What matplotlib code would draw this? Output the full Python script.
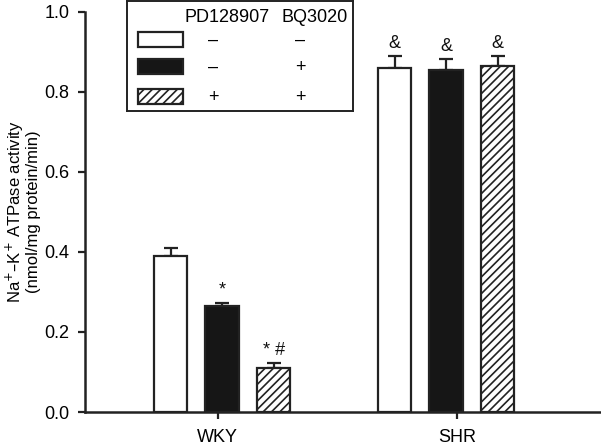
import numpy as np
import matplotlib.pyplot as plt
from matplotlib.patches import Rectangle

plt.rcParams['font.family'] = ['Liberation Sans', 'DejaVu Sans']
plt.rcParams['hatch.linewidth'] = 1.2
plt.rcParams['hatch.color'] = '#222222'

# data
groups = ['WKY', 'SHR']
group_ticks = [-0.02, 1.05]
treatments = ['vehicle', 'BQ3020', 'PD128907 + BQ3020']
means = {
    'WKY': [0.39, 0.265, 0.11],
    'SHR': [0.86, 0.855, 0.865],
}
errors = {
    'WKY': [0.02, 0.008, 0.012],
    'SHR': [0.03, 0.028, 0.025],
}
marks = {
    'WKY': ['', '*', '* #'],
    'SHR': ['&', '&', '&'],
}
pd_signs = ['\u2013', '\u2013', '+']
bq_signs = ['\u2013', '+', '+']

# styles per treatment
faces = ['white', '#161616', 'white']
hatches = ['', '', '////']
offsets = [-0.23, 0.0, 0.23]
width = 0.148
ink = '#222222'
fs = 13

fig = plt.figure(figsize=(6.01, 4.48), dpi=100)
ax = fig.add_axes([85 / 601, 36 / 448, 1 - 85 / 601, (412 - 12) / 448])

for gi, g in enumerate(groups):
    for ti in range(len(treatments)):
        x = gi + offsets[ti]
        m = means[g][ti]
        e = errors[g][ti]
        ax.bar(x, m, width=width, color=faces[ti], edgecolor=ink,
               linewidth=1.6, hatch=hatches[ti], zorder=2)
        ax.errorbar(x, m, yerr=[[0], [e]], fmt='none', ecolor=ink,
                    elinewidth=1.6, capsize=5, capthick=1.6, zorder=1)
        if marks[g][ti]:
            ax.text(x, m + e + 0.01, marks[g][ti], ha='center', va='bottom',
                    fontsize=fs, color='#111111')

ax.set_xlim(-0.612, 1.692)
ax.set_ylim(0, 1.0)
ax.set_yticks(np.arange(0, 1.01, 0.2))
ax.set_yticklabels([f'{v:.1f}' for v in np.arange(0, 1.01, 0.2)])
ax.set_xticks(group_ticks)
ax.set_xticklabels(groups)
for s in ['top', 'right']:
    ax.spines[s].set_visible(False)
for s in ['left', 'bottom']:
    ax.spines[s].set_linewidth(1.8)
    ax.spines[s].set_color(ink)
ax.tick_params(axis='y', length=5, width=1.6, pad=6, labelsize=fs, color=ink)
ax.tick_params(axis='x', length=5, width=1.6, pad=7, labelsize=fs, color=ink)
ax.set_ylabel('Na$^{+}$\u2013K$^{+}$ ATPase activity\n(nmol/mg protein/min)',
              fontsize=12, linespacing=1.0)
ax.yaxis.set_label_coords(-0.085, 0.5)

# legend box with treatment table
lax = fig.add_axes([127 / 601, (448 - 111) / 448, 226 / 601, 110 / 448])
lax.set_xlim(0, 226)
lax.set_ylim(110, 0)
lax.set_xticks([])
lax.set_yticks([])
for s in lax.spines.values():
    s.set_linewidth(1.4)
    s.set_color(ink)
lax.text(100, 16, 'PD128907', ha='center', va='center', fontsize=fs)
lax.text(188, 16, 'BQ3020', ha='center', va='center', fontsize=fs)
rows_y = [39, 66, 96]
for ti, yy in enumerate(rows_y):
    lax.add_patch(Rectangle((11, yy - 7.5), 45, 15, facecolor=faces[ti],
                            edgecolor=ink, linewidth=1.6, hatch=hatches[ti]))
    lax.text(86, yy, pd_signs[ti], ha='center', va='center', fontsize=fs)
    lax.text(173, yy, bq_signs[ti], ha='center', va='center', fontsize=fs)

fig.savefig('out.png', dpi=100)
